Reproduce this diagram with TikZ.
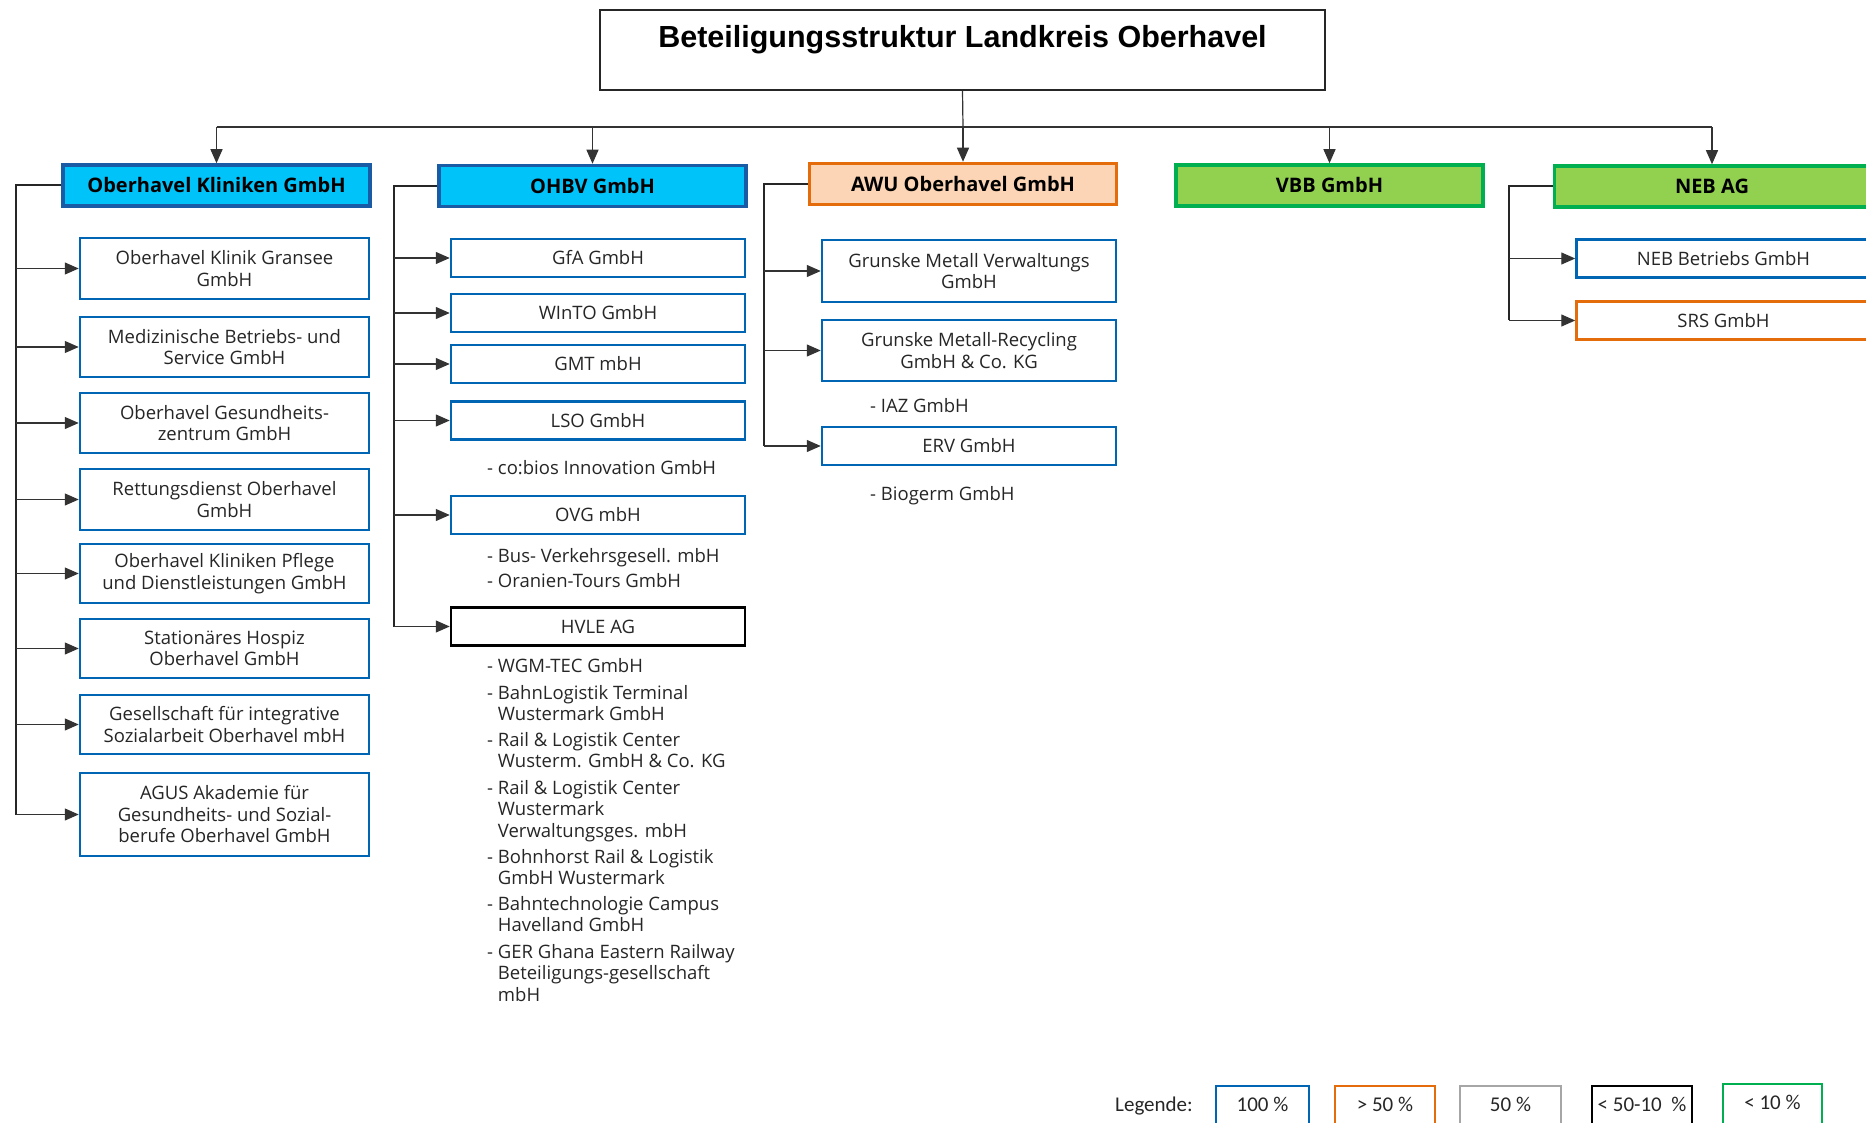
\documentclass[tikz,border=0pt]{standalone}
\usepackage{fontspec}
\setmainfont{Open Sans}
\newfontfamily\titlefont{Liberation Sans}
\newfontfamily\legendfont{Carlito}
\usetikzlibrary{arrows.meta}

\definecolor{headfill}{RGB}{0,195,250}
\definecolor{headline}{RGB}{25,92,165}
\definecolor{subblue}{RGB}{0,102,180}
\definecolor{orangeline}{RGB}{228,108,10}
\definecolor{peach}{RGB}{251,213,181}
\definecolor{greenfill}{RGB}{146,208,80}
\definecolor{greenline}{RGB}{0,176,80}
\definecolor{midgray}{RGB}{166,166,166}

\tikzset{
  titlebox/.style={draw=black!85, line width=2pt, minimum width=725pt,
    inner sep=0pt, text height=38pt, text depth=42pt,
    font=\titlefont\bfseries\fontsize{30.5}{34}\selectfont},
  headbox/.style={line width=3.5pt, minimum width=307pt, minimum height=41pt,
    inner sep=0pt, font=\bfseries\fontsize{20}{22}\selectfont},
  subbox/.style={draw=subblue, line width=2.5pt, fill=white, minimum width=294pt,
    minimum height=38pt, inner sep=0pt, align=center, text=black!85,
    font=\fontsize{18.5}{21.5}\selectfont},
  listitem/.style={anchor=north west, inner sep=0pt, align=left, text=black!85,
    font=\fontsize{18.5}{21.5}\selectfont},
  legbox/.style={line width=2.5pt, inner sep=0pt, text height=25pt, text depth=25pt,
    text=black!85, font=\legendfont\fontsize{21}{24}\selectfont},
  conn/.style={line width=1.2pt, draw=black!80},
  branch/.style={line width=2pt, draw=black!85},
  arr/.style={conn, -{Triangle[length=14pt,width=12pt]}}
}

\begin{document}
\begin{tikzpicture}[x=1pt, y=-1pt]
  \useasboundingbox (0,0) rectangle (1866,1123);

  % Title
  \node[titlebox] (title) at (962.5,50) {Beteiligungsstruktur Landkreis Oberhavel};

  % First level
  \node[headbox, draw=headline, fill=headfill] (kl) at (216.5,185.5) {Oberhavel Kliniken GmbH};
  \node[headbox, draw=headline, fill=headfill] (oh) at (592.5,186) {OHBV GmbH};
  \node[headbox, draw=orangeline, fill=peach] (aw) at (963,184) {AWU Oberhavel GmbH};
  \node[headbox, draw=greenline, fill=greenfill] (vb) at (1329.5,185.5) {VBB GmbH};
  \node[headbox, draw=greenline, fill=greenfill, minimum width=315pt] (nb) at (1712,186.5) {NEB AG};

  % Oberhavel Kliniken
  \node[subbox, minimum width=289pt, minimum height=61pt] (k1) at (224.5,268.5) {Oberhavel Klinik Gransee\\GmbH};
  \node[subbox, minimum width=289pt, minimum height=60pt] (k2) at (224.5,347) {Medizinische Betriebs- und\\Service GmbH};
  \node[subbox, minimum width=289pt, minimum height=60pt] (k3) at (224.5,423) {Oberhavel Gesundheits-\\zentrum GmbH};
  \node[subbox, minimum width=289pt, minimum height=61pt] (k4) at (224.5,499.5) {Rettungsdienst Oberhavel\\GmbH};
  \node[subbox, minimum width=289pt, minimum height=59pt] (k5) at (224.5,573.5) {Oberhavel Kliniken Pflege\\und Dienstleistungen GmbH};
  \node[subbox, minimum width=289pt, minimum height=59pt] (k6) at (224.5,648.5) {Stationäres Hospiz\\Oberhavel GmbH};
  \node[subbox, minimum width=289pt, minimum height=59pt] (k7) at (224.5,724.5) {Gesellschaft für integrative\\Sozialarbeit Oberhavel mbH};
  \node[subbox, minimum width=289pt, minimum height=83pt] (k8) at (224.5,814.5) {AGUS Akademie für\\Gesundheits- und Sozial-\\berufe Oberhavel GmbH};

  % OHBV
  \node[subbox] (o1) at (598,258) {GfA GmbH};
  \node[subbox] (o2) at (598,313) {WInTO GmbH};
  \node[subbox] (o3) at (598,364) {GMT mbH};
  \node[subbox] (o4) at (598,420.5) {LSO GmbH};
  \node[subbox] (o5) at (598,515) {OVG mbH};
  \node[subbox, draw=black] (o6) at (598,626.5) {HVLE AG};
  \node[listitem] (l1) at (487,459) {\strut- co:bios Innovation GmbH};
  \node[listitem] (l2) at (487,547) {\strut- Bus- Verkehrsgesell. mbH};
  \node[listitem] (l3) at (487,572) {\strut- Oranien-Tours GmbH};
  \node[listitem] (h1) at (487,657) {\strut- WGM-TEC GmbH};
  \node[listitem] (h2) at (487,684) {\strut- BahnLogistik Terminal\\\phantom{- }Wustermark GmbH};
  \node[listitem] (h3) at (487,731) {\strut- Rail \& Logistik Center\\\phantom{- }Wusterm. GmbH \& Co. KG};
  \node[listitem] (h4) at (487,779) {\strut- Rail \& Logistik Center\\\phantom{- }Wustermark\\\phantom{- }Verwaltungsges. mbH};
  \node[listitem] (h5) at (487,848) {\strut- Bohnhorst Rail \& Logistik\\\phantom{- }GmbH Wustermark};
  \node[listitem] (h6) at (487,895) {\strut- Bahntechnologie Campus\\\phantom{- }Havelland GmbH};
  \node[listitem] (h7) at (487,943) {\strut- GER Ghana Eastern Railway\\\phantom{- }Beteiligungs-gesellschaft\\\phantom{- }mbH};

  % AWU
  \node[subbox, minimum height=62pt] (a1) at (969,271) {Grunske Metall Verwaltungs\\GmbH};
  \node[subbox, minimum height=61pt] (a2) at (969,350.5) {Grunske Metall-Recycling\\GmbH \& Co. KG};
  \node[subbox] (a3) at (969,446) {ERV GmbH};
  \node[listitem] (m1) at (870,397) {\strut- IAZ GmbH};
  \node[listitem] (m2) at (870,485) {\strut- Biogerm GmbH};

  % NEB
  \node[subbox] (n1) at (1723.5,258.5) {NEB Betriebs GmbH};
  \node[subbox, draw=orangeline] (n2) at (1723.5,320.5) {SRS GmbH};

  % Connectors from the title
  \coordinate (bus) at (963,127);
  \draw[conn] (title.south) -- (bus);
  \draw[conn] (kl.north |- bus) -- (nb.north |- bus);
  \draw[arr] (kl.north |- bus) -- (kl.north);
  \draw[arr] (oh.north |- bus) -- (oh.north);
  \draw[arr] (aw.north |- bus) -- (aw.north);
  \draw[arr] (vb.north |- bus) -- (vb.north);
  \draw[arr] (nb.north |- bus) -- (nb.north);

  % Branch lines
  \coordinate (klx) at (15.5,0);
  \draw[branch] (kl.west) -| (klx |- k8.west);
  \draw[arr] (klx |- k1.west) -- (k1.west);
  \draw[arr] (klx |- k2.west) -- (k2.west);
  \draw[arr] (klx |- k3.west) -- (k3.west);
  \draw[arr] (klx |- k4.west) -- (k4.west);
  \draw[arr] (klx |- k5.west) -- (k5.west);
  \draw[arr] (klx |- k6.west) -- (k6.west);
  \draw[arr] (klx |- k7.west) -- (k7.west);
  \draw[arr] (klx |- k8.west) -- (k8.west);

  \coordinate (ohx) at (394,0);
  \draw[branch] (oh.west) -| (ohx |- o6.west);
  \draw[arr] (ohx |- o1.west) -- (o1.west);
  \draw[arr] (ohx |- o2.west) -- (o2.west);
  \draw[arr] (ohx |- o3.west) -- (o3.west);
  \draw[arr] (ohx |- o4.west) -- (o4.west);
  \draw[arr] (ohx |- o5.west) -- (o5.west);
  \draw[arr] (ohx |- o6.west) -- (o6.west);

  \coordinate (awx) at (764,0);
  \draw[branch] (aw.west) -| (awx |- a3.west);
  \draw[arr] (awx |- a1.west) -- (a1.west);
  \draw[arr] (awx |- a2.west) -- (a2.west);
  \draw[arr] (awx |- a3.west) -- (a3.west);

  \coordinate (nbx) at (1509,0);
  \draw[branch] (nb.west) -| (nbx |- n2.west);
  \draw[arr] (nbx |- n1.west) -- (n1.west);
  \draw[arr] (nbx |- n2.west) -- (n2.west);

  % Legend
  \node[legbox] (leg) at (1154,1111) {Legende:};
  \node[legbox, draw=subblue, minimum width=93pt] (g1) at (1262.5,1111) {100 \%};
  \node[legbox, draw=orangeline, minimum width=100pt] (g2) at (1385,1111) {> 50 \%};
  \node[legbox, draw=midgray, minimum width=101pt] (g3) at (1510.5,1111) {50 \%};
  \node[legbox, draw=black, minimum width=100pt] (g4) at (1642,1111) {< 50-10\ \ \%};
  \node[legbox, draw=greenline, minimum width=99pt] (g5) at (1772.5,1109) {< 10 \%};
\end{tikzpicture}
\end{document}
